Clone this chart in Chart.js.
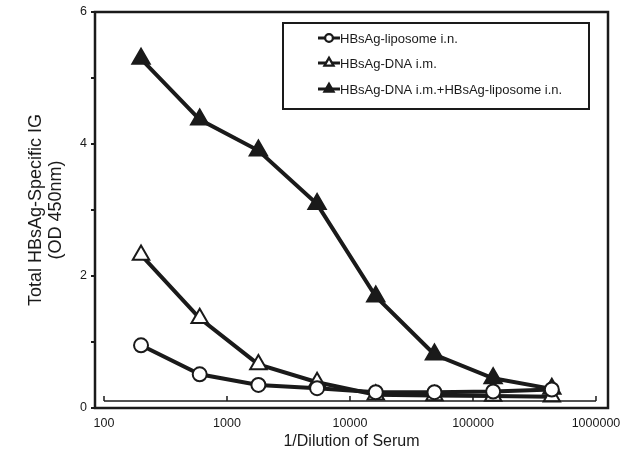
<!DOCTYPE html>
<html>
<head>
<meta charset="utf-8">
<script src="https://cdn.jsdelivr.net/npm/chart.js@4"></script>
<style>
  html, body { margin: 0; padding: 0; background: #fff; }
  #wrap { width: 631px; height: 453px; }
</style>
</head>
<body>
<div id="wrap"><canvas id="chart" width="631" height="453"></canvas></div>
<script>
/* ===================== DATA ===================== */
const dilutions = [200, 600, 1800, 5400, 16200, 48600, 145800, 437400];
const liposomeIN = [0.95, 0.51, 0.35, 0.30, 0.24, 0.24, 0.25, 0.28];
const dnaIM = [2.32, 1.36, 0.66, 0.39, 0.20, 0.19, 0.18, 0.17];
const dnaPlusLiposome = [5.29, 4.37, 3.90, 3.09, 1.69, 0.81, 0.45, 0.29];
const xTicks = [100, 1000, 10000, 100000, 1000000];
const seriesNames = ["HBsAg-liposome i.n.", "HBsAg-DNA i.m.", "HBsAg-DNA i.m.+HBsAg-liposome i.n."];

const FONT = "'Liberation Sans', Arial, sans-serif";
const INK = "#1a1a1a";

const pts = vals => dilutions.map((d, i) => ({ x: d, y: vals[i] }));

/* ===================== FRAME + FLOATING AXIS ===================== */
const framePlugin = {
  id: "frame",
  afterDraw(chart) {
    const { ctx, chartArea: a, scales } = chart;
    const x = scales.x;
    ctx.save();
    ctx.strokeStyle = INK;
    ctx.lineWidth = 2.5;
    ctx.strokeRect(a.left, a.top, a.right - a.left, a.bottom - a.top);

    // thin x axis sitting just above the frame bottom
    const y = a.bottom - 7;
    const x0 = x.getPixelForValue(xTicks[0]);
    const x1 = x.getPixelForValue(xTicks[xTicks.length - 1]);
    ctx.lineWidth = 1.5;
    ctx.beginPath();
    ctx.moveTo(x0, y);
    ctx.lineTo(x1, y);
    xTicks.forEach(v => {
      const px = x.getPixelForValue(v);
      ctx.moveTo(px, y);
      ctx.lineTo(px, y - 5);
    });
    ctx.stroke();
    ctx.restore();
  }
};

/* ===================== LEGEND BOX ===================== */
const legendPlugin = {
  id: "boxLegend",
  afterDraw(chart) {
    const { ctx } = chart;
    const box = { x: 283, y: 23, w: 306, h: 86 };
    ctx.save();
    ctx.fillStyle = "#fff";
    ctx.fillRect(box.x, box.y, box.w, box.h);
    ctx.strokeStyle = INK;
    ctx.lineWidth = 2;
    ctx.strokeRect(box.x, box.y, box.w, box.h);

    const rows = [38, 63, 89];
    ctx.font = "13px " + FONT;
    ctx.textBaseline = "middle";
    chart.data.datasets.forEach((ds, i) => {
      const ry = rows[i];
      ctx.strokeStyle = INK;
      ctx.lineWidth = 3;
      ctx.beginPath();
      ctx.moveTo(318, ry);
      ctx.lineTo(340, ry);
      ctx.stroke();
      Chart.helpers.drawPoint(ctx, {
        pointStyle: ds.pointStyle,
        radius: ds.pointStyle === "circle" ? 3.5 : 4.5,
        borderWidth: 1.5
      }, 329, ry);
      ctx.fillStyle = ds.pointBackgroundColor;
      ctx.strokeStyle = INK;
      ctx.lineWidth = 1.5;
      ctx.fill();
      ctx.stroke();
      ctx.fillStyle = INK;
      ctx.fillText(seriesNames[i], 340, ry + 1);
    });
    ctx.restore();
  }
};

/* ===================== CHART ===================== */
const common = {
  borderColor: INK,
  borderWidth: 4,
  pointBorderColor: INK,
  pointBorderWidth: 2,
  tension: 0
};

new Chart(document.getElementById("chart"), {
  type: "line",
  data: {
    datasets: [
      { ...common, label: seriesNames[0], data: pts(liposomeIN), pointStyle: "circle", pointRadius: 7, pointBackgroundColor: "#fff" },
      { ...common, label: seriesNames[1], data: pts(dnaIM), pointStyle: "triangle", pointRadius: 9.5, pointBackgroundColor: "#fff" },
      { ...common, label: seriesNames[2], data: pts(dnaPlusLiposome), pointStyle: "triangle", pointRadius: 10, pointBackgroundColor: INK }
    ]
  },
  options: {
    responsive: false,
    animation: false,
    layout: { padding: { top: 9, right: 23, left: 26, bottom: 0 } },
    plugins: { legend: { display: false }, tooltip: { enabled: false } },
    scales: {
      x: {
        type: "logarithmic",
        min: 84.5,
        max: 1252000,
        afterBuildTicks: s => { s.ticks = xTicks.map(v => ({ value: v })); },
        afterFit: s => { s.height = 45; },
        ticks: {
          color: INK,
          font: { family: FONT, size: 12.5 },
          padding: 8,
          maxRotation: 0,
          autoSkip: false,
          callback: v => String(v)
        },
        grid: { display: false, drawTicks: false },
        border: { display: false },
        title: {
          display: true,
          text: "1/Dilution of Serum",
          color: INK,
          font: { family: FONT, size: 16 },
          padding: { top: 2, bottom: 2 }
        }
      },
      y: {
        min: 0,
        max: 6,
        afterFit: s => { s.width = 69; },
        ticks: {
          stepSize: 1,
          color: INK,
          font: { family: FONT, size: 12.5 },
          padding: 4,
          callback: v => (v % 2 === 0 ? String(v) : "")
        },
        grid: { drawOnChartArea: false, drawTicks: true, tickLength: 4, color: INK, lineWidth: 2 },
        border: { display: false },
        title: {
          display: true,
          text: ["Total HBsAg-Specific IG", "(OD 450nm)"],
          color: INK,
          font: { family: FONT, size: 18, lineHeight: 1.11 },
          padding: { top: 0, bottom: 0 }
        }
      }
    }
  },
  plugins: [framePlugin, legendPlugin]
});
</script>
</body>
</html>
